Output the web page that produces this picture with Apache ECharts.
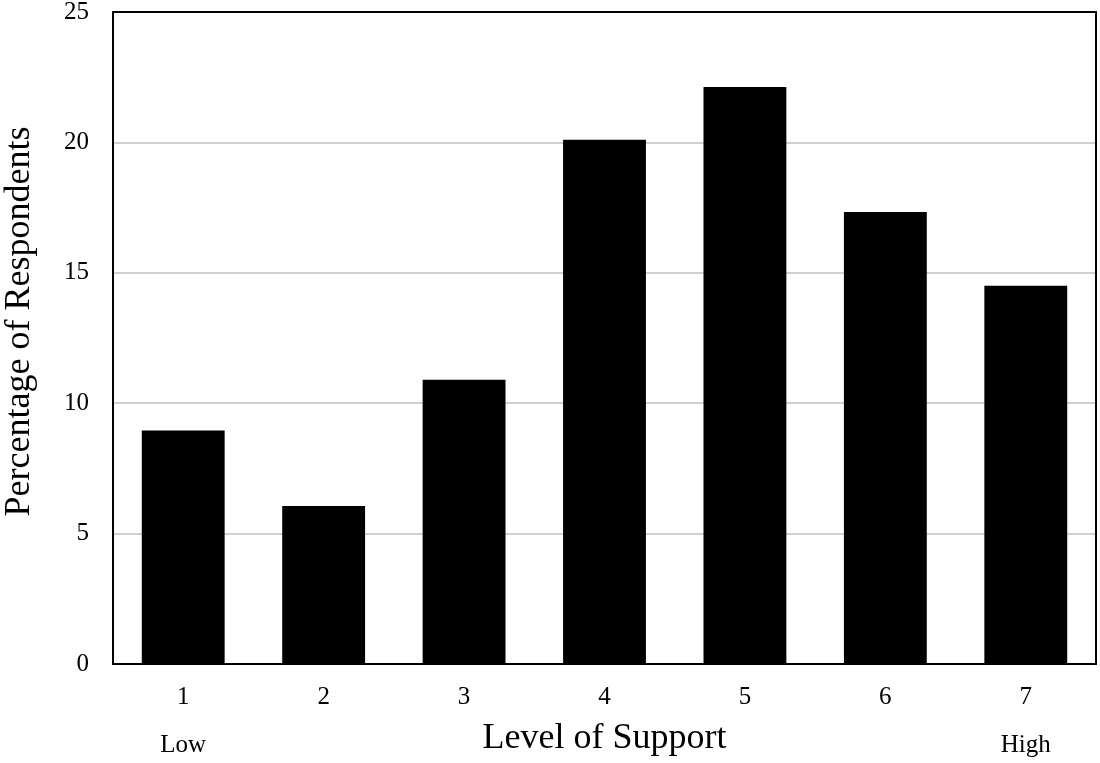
<!DOCTYPE html>
<html>
<head>
<meta charset="utf-8">
<script src="https://cdn.jsdelivr.net/npm/echarts@6/dist/echarts.min.js"></script>
<style>
  html, body { margin: 0; padding: 0; background: #fff; }
  #chart { width: 1100px; height: 763px; }
</style>
</head>
<body>
<div id="chart"></div>
<script>
// 数据
const levels = ['1', '2', '3', '4', '5', '6', '7']
const endLabels = ['Low', '', '', '', '', '', 'High']
const percentages = [8.95, 6.06, 10.9, 20.1, 22.12, 17.33, 14.5]
const yTicks = [0, 5, 10, 15, 20, 25]

const font = '"Liberation Serif", "DejaVu Serif", serif'
const chart = echarts.init(document.getElementById('chart'), null, { renderer: 'canvas' })

// 框线：上、右两边用不带标签的轴画出
const frameLine = { show: true, lineStyle: { color: '#000', width: 2 } }

chart.setOption({
  backgroundColor: '#fff',
  animation: false,
  grid: { left: 113, right: 4, top: 12, bottom: 99, containLabel: false, outerBoundsMode: 'none' },
  xAxis: [
    {
      type: 'category',
      data: levels,
      name: 'Level of Support',
      nameLocation: 'middle',
      nameGap: 57,
      nameTextStyle: { fontFamily: font, fontSize: 36, color: '#000' },
      axisLine: frameLine,
      axisTick: { show: false },
      axisLabel: { fontFamily: font, fontSize: 25, color: '#000', margin: 21 }
    },
    {
      type: 'category',
      data: endLabels,
      position: 'bottom',
      axisLine: { show: false },
      axisTick: { show: false },
      axisLabel: { fontFamily: font, fontSize: 25, color: '#000', margin: 69 }
    },
    {
      type: 'category',
      data: levels,
      position: 'top',
      axisLine: frameLine,
      axisTick: { show: false },
      axisLabel: { show: false }
    }
  ],
  yAxis: [
    {
      type: 'value',
      min: yTicks[0],
      max: yTicks[yTicks.length - 1],
      interval: 5,
      name: 'Percentage of Respondents',
      nameLocation: 'middle',
      nameGap: 75,
      nameTextStyle: { fontFamily: font, fontSize: 36, color: '#000', padding: [0, 0, 0, 33] },
      axisLine: frameLine,
      axisTick: { show: false },
      axisLabel: { fontFamily: font, fontSize: 25, color: '#000', margin: 24 },
      splitLine: { show: true, lineStyle: { color: '#d0d0d0', width: 2 } }
    },
    {
      type: 'value',
      position: 'right',
      min: yTicks[0],
      max: yTicks[yTicks.length - 1],
      interval: 5,
      axisLine: frameLine,
      axisTick: { show: false },
      axisLabel: { show: false },
      splitLine: { show: false }
    }
  ],
  series: [
    {
      type: 'bar',
      data: percentages,
      barWidth: '59%',
      itemStyle: { color: '#000' }
    }
  ]
})
</script>
</body>
</html>
